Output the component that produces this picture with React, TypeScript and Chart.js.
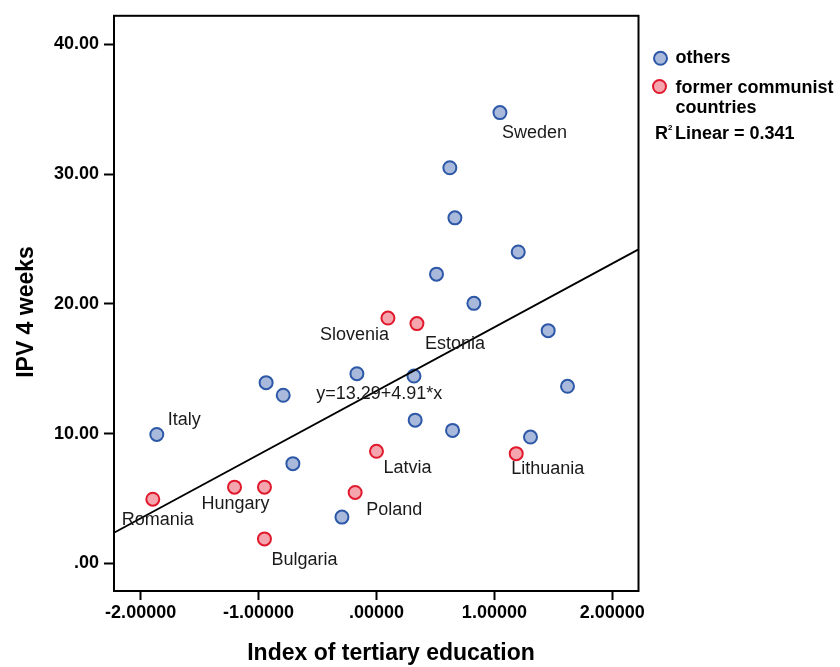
import React, { useEffect, useRef } from "react";
import { Chart, registerables } from "chart.js";

Chart.register(...registerables);

// ---- data ----
const othersX = [1.047, 0.622, 0.665, 1.202, 0.509, 0.826, 1.456, 1.62, 0.318, -0.166, -0.936, -0.791, -1.863, -0.709, -0.293, 0.328, 0.645, 1.306];
const othersY = [34.74, 30.49, 26.63, 24.0, 22.29, 20.04, 17.94, 13.65, 14.44, 14.62, 13.93, 12.96, 9.94, 7.69, 3.57, 11.04, 10.25, 9.74];
const othersNames = ["Sweden", "", "", "", "", "", "", "", "", "", "", "", "Italy", "", "", "", "", ""];

const communistX = [0.097, 0.343, -1.897, -1.204, -0.95, -0.95, 0.0, -0.181, 1.185];
const communistY = [18.91, 18.48, 4.95, 5.88, 5.88, 1.89, 8.64, 5.47, 8.46];
const communistNames = ["Slovenia", "Estonia", "Romania", "Hungary", "", "Bulgaria", "Latvia", "Poland", "Lithuania"];

const xTicks = [-2, -1, 0, 1, 2];
const yTicks = [0, 10, 20, 30, 40];

const intercept = 13.29;
const slope = 4.91;
const r2 = "0.341";

const X_MIN = -2.226;
const X_MAX = 2.222;
const Y_MIN = -2.124;
const Y_MAX = 42.2;

// label placement (pixel offsets from the point: text left, text middle)
const labelOffsets: Record<string, [number, number]> = {
  Sweden: [2, 20],
  Italy: [11, -14],
  Slovenia: [-68, 17],
  Estonia: [8, 20],
  Romania: [-31, 21],
  Hungary: [-33, 17],
  Bulgaria: [7, 21],
  Latvia: [7, 17],
  Poland: [11, 18],
  Lithuania: [-5, 15],
};

const FONT = "'Liberation Sans', Arial, Helvetica, sans-serif";
const BLUE_FILL = "#a8b9dc";
const BLUE_BORDER = "#2d58a8";
const RED_FILL = "#f4a5ae";
const RED_BORDER = "#e01a2c";

const annotPlugin = {
  id: "annot",
  beforeDatasetsDraw(chart: any) {
    const { ctx, chartArea } = chart;
    ctx.save();
    ctx.strokeStyle = "#000";
    ctx.lineWidth = 2;
    ctx.strokeRect(chartArea.left, chartArea.top, chartArea.right - chartArea.left, chartArea.bottom - chartArea.top);
    ctx.restore();
  },
  afterDatasetsDraw(chart: any) {
    const { ctx } = chart;
    const xs = chart.scales.x;
    const ys = chart.scales.y;
    ctx.save();
    ctx.fillStyle = "#1a1a1a";
    ctx.font = `18px ${FONT}`;
    ctx.textAlign = "left";
    ctx.textBaseline = "middle";
    const drawSet = (xArr: number[], yArr: number[], names: string[]) => {
      names.forEach((n, i) => {
        if (!n) return;
        const off = labelOffsets[n] || [6, 16];
        const px = xs.getPixelForValue(xArr[i]);
        const py = ys.getPixelForValue(yArr[i]);
        ctx.fillText(n, px + off[0], py + off[1]);
      });
    };
    drawSet(othersX, othersY, othersNames);
    drawSet(communistX, communistY, communistNames);
    // equation label
    ctx.fillText(`y=${intercept}+${slope}*x`, xs.getPixelForValue(-0.511), ys.getPixelForValue(13.05));
    ctx.restore();
  },
  afterDraw(chart: any) {
    const { ctx, chartArea } = chart;
    ctx.save();
    ctx.fillStyle = "#000";
    // axis titles
    ctx.font = `bold 23px ${FONT}`;
    ctx.textAlign = "center";
    ctx.textBaseline = "alphabetic";
    ctx.fillText("Index of tertiary education", 391, 660);
    ctx.save();
    ctx.translate(33, 312);
    ctx.rotate(-Math.PI / 2);
    ctx.fillText("IPV 4 weeks", 0, 0);
    ctx.restore();

    // legend
    const lx = chartArea.right + 22;
    const drawMarker = (x: number, y: number, fill: string, stroke: string) => {
      ctx.beginPath();
      ctx.arc(x, y, 6.5, 0, Math.PI * 2);
      ctx.fillStyle = fill;
      ctx.fill();
      ctx.lineWidth = 2;
      ctx.strokeStyle = stroke;
      ctx.stroke();
    };
    drawMarker(lx, 58.3, BLUE_FILL, BLUE_BORDER);
    drawMarker(lx - 1, 86.5, RED_FILL, RED_BORDER);
    ctx.fillStyle = "#000";
    ctx.font = `bold 18px ${FONT}`;
    ctx.textAlign = "left";
    ctx.textBaseline = "middle";
    ctx.fillText("others", 675.5, 58.5);
    ctx.fillText("former communist", 675.5, 88.3);
    ctx.fillText("countries", 675.5, 107.7);
    ctx.fillText("R", 655, 134.5);
    ctx.fillText(`Linear = ${r2}`, 675, 134.5);
    ctx.font = `bold 8px ${FONT}`;
    ctx.fillText("2", 668, 127.5);
    ctx.restore();
  },
};

export default function App() {
  const canvasRef = useRef<HTMLCanvasElement | null>(null);

  useEffect(() => {
    if (!canvasRef.current) return;
    const lineData = [
      { x: X_MIN, y: intercept + slope * X_MIN },
      { x: X_MAX, y: intercept + slope * X_MAX },
    ];
    const chart = new Chart(canvasRef.current, {
      type: "scatter",
      data: {
        datasets: [
          {
            type: "line" as any,
            label: "Linear fit",
            data: lineData,
            borderColor: "#000",
            borderWidth: 1.8,
            pointRadius: 0,
            fill: false,
          },
          {
            label: "others",
            data: othersX.map((x, i) => ({ x, y: othersY[i] })),
            backgroundColor: BLUE_FILL,
            borderColor: BLUE_BORDER,
            borderWidth: 2,
            pointRadius: 6.5,
          },
          {
            label: "former communist countries",
            data: communistX.map((x, i) => ({ x, y: communistY[i] })),
            backgroundColor: RED_FILL,
            borderColor: RED_BORDER,
            borderWidth: 2,
            pointRadius: 6.5,
          },
        ],
      },
      options: {
        responsive: false,
        animation: false,
        devicePixelRatio: 1,
        layout: { padding: { left: 0, top: 13, right: 201.5, bottom: 0 } },
        plugins: { legend: { display: false }, tooltip: { enabled: false } },
        scales: {
          x: {
            type: "linear",
            position: "bottom",
            min: X_MIN,
            max: X_MAX,
            afterFit: (s: any) => {
              s.height = 76;
            },
            afterBuildTicks: (s: any) => {
              s.ticks = xTicks.map((v) => ({ value: v }));
            },
            ticks: {
              color: "#000",
              font: { family: FONT, size: 18, weight: "bold" },
              padding: 2,
              maxRotation: 0,
              callback: (v: any) => (Number(v) === 0 ? ".00000" : Number(v).toFixed(5)),
            },
            grid: { drawOnChartArea: false, drawTicks: true, tickLength: 9, tickWidth: 2, tickColor: "#000" },
            border: { display: true, color: "#000", width: 2 },
          },
          y: {
            type: "linear",
            min: Y_MIN,
            max: Y_MAX,
            afterFit: (s: any) => {
              s.width = 114;
            },
            afterBuildTicks: (s: any) => {
              s.ticks = yTicks.map((v) => ({ value: v }));
            },
            ticks: {
              color: "#000",
              font: { family: FONT, size: 18, weight: "bold" },
              padding: 5,
              callback: (v: any) => (Number(v) === 0 ? ".00" : Number(v).toFixed(2)),
            },
            grid: { drawOnChartArea: false, drawTicks: true, tickLength: 10, tickWidth: 2, tickColor: "#000" },
            border: { display: true, color: "#000", width: 2 },
          },
        },
      } as any,
      plugins: [annotPlugin],
    });
    return () => chart.destroy();
  }, []);

  return (
    <div style={{ position: "absolute", left: 0, top: 0, width: 840, height: 667, background: "#fff" }}>
      <canvas ref={canvasRef} width={840} height={667} />
    </div>
  );
}
